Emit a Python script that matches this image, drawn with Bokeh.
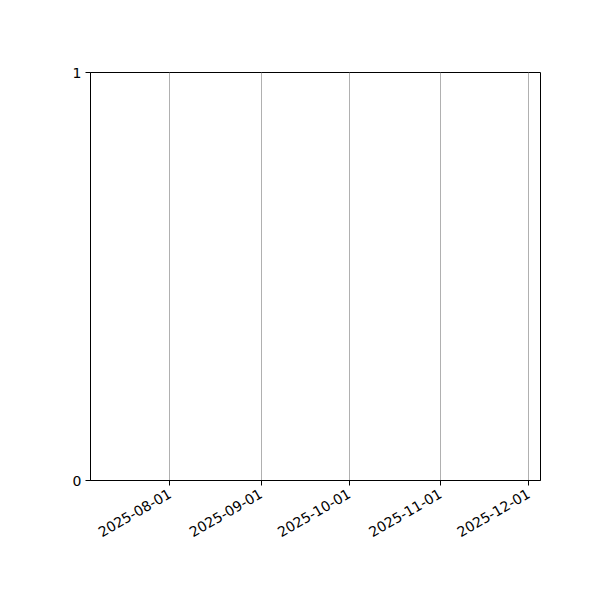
import math
from datetime import datetime

from bokeh.plotting import figure
from bokeh.models import Range1d, FixedTicker, DatetimeTickFormatter
from bokeh.embed import file_html
from bokeh.resources import INLINE

# axis limits and tick positions
x_start = datetime(2025, 7, 5)
x_end = datetime(2025, 12, 5)
month_ticks = [datetime(2025, 8, 1), datetime(2025, 9, 1), datetime(2025, 10, 1),
               datetime(2025, 11, 1), datetime(2025, 12, 1)]
y_ticks = [0, 1]

EPOCH = datetime(1970, 1, 1)


def to_ms(d):
    return (d - EPOCH).total_seconds() * 1000.0


FONT = "DejaVu Sans"

p = figure(width=592, height=592,
           frame_width=450, frame_height=408,
           x_axis_type="datetime",
           x_range=Range1d(start=x_start, end=x_end),
           y_range=Range1d(start=0, end=1),
           output_backend="svg", toolbar_location=None)
p.min_border_left = 90
p.min_border_right = 52
p.min_border_top = 72
p.min_border_bottom = 112

p.background_fill_color = "white"
p.border_fill_color = "white"
p.outline_line_color = "black"
p.outline_line_alpha = 1.0
p.outline_line_width = 1

p.xaxis.ticker = FixedTicker(ticks=[to_ms(d) for d in month_ticks])
p.xaxis.formatter = DatetimeTickFormatter(days="%Y-%m-%d", months="%Y-%m-%d",
                                          years="%Y-%m-%d")
p.xaxis.major_label_orientation = math.pi / 6
p.yaxis.ticker = FixedTicker(ticks=y_ticks)

for ax in (p.xaxis, p.yaxis):
    ax.axis_line_color = "black"
    ax.major_tick_line_color = "black"
    ax.major_tick_out = 5
    ax.major_tick_in = 0
    ax.minor_tick_line_color = None
    ax.major_label_text_font = FONT
    ax.major_label_text_font_size = "14px"
    ax.major_label_text_color = "black"
    ax.major_label_standoff = 4

p.xaxis.major_label_standoff = 7

p.xgrid.grid_line_color = "#b0b0b0"
p.xgrid.grid_line_width = 1
p.ygrid.visible = False

open("out.html", "w").write(file_html(p, INLINE))
